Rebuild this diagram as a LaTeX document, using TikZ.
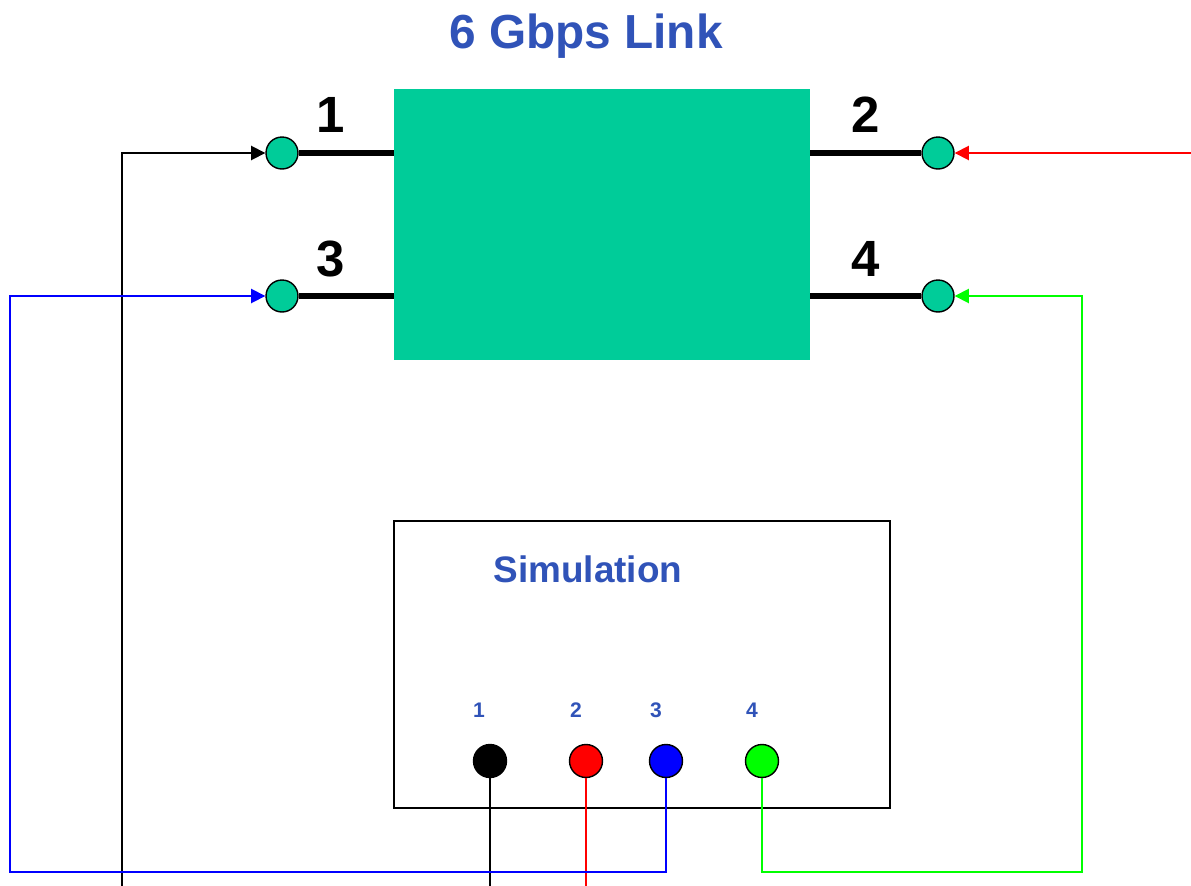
\documentclass[tikz,border=0pt]{standalone}
\usepackage{fontspec}
\setmainfont{Liberation Sans}
\usepackage{xcolor}
\usetikzlibrary{arrows.meta}
\definecolor{linkgreen}{HTML}{00CC99}
\definecolor{titleblue}{HTML}{3053B8}

\begin{document}
\begin{tikzpicture}[
  x=0.02cm,y=-0.02cm,
  font=\bfseries,
  port/.style={circle,draw,line width=0.8pt,fill=linkgreen,minimum size=0.64cm,inner sep=0pt},
  probe/.style={circle,draw,line width=0.8pt,minimum size=0.66cm,inner sep=0pt},
  lead/.style={line width=3pt},
  wire/.style={line width=1pt},
  arr/.style={wire,-{Triangle[length=8pt,width=8pt]}}
]
\useasboundingbox (0,0) rectangle (1191,886);

% title and the link block
\node[anchor=base,text=titleblue,font=\bfseries\fontsize{27.2}{31}\selectfont] (title) at (586,48) {6 Gbps Link};
\node[fill=linkgreen,minimum width=8.32cm,minimum height=5.42cm,inner sep=0pt] (link) at (602,224.5) {};

\node[port] (p1) at (282,153) {};
\node[port] (p3) at (282,296) {};
\node[port] (p2) at (938,153) {};
\node[port] (p4) at (938,296) {};
\draw[lead] (p1) -- (p1 -| link.west);
\draw[lead] (p3) -- (p3 -| link.west);
\draw[lead] (p2) -- (p2 -| link.east);
\draw[lead] (p4) -- (p4 -| link.east);

\node[anchor=base,font=\bfseries\fontsize{29}{32}\selectfont] (l1) at (331,132) {1};
\node[anchor=base,font=\bfseries\fontsize{29}{32}\selectfont] (l3) at (331,276) {3};
\node[anchor=base,font=\bfseries\fontsize{29}{32}\selectfont] (l2) at (866,132) {2};
\node[anchor=base,font=\bfseries\fontsize{29}{32}\selectfont] (l4) at (866,276) {4};

% simulation box
\node[draw,line width=1.1pt,minimum width=9.92cm,minimum height=5.74cm,inner sep=0pt] (sim) at (642,664.5) {};
\node[anchor=base,text=titleblue,font=\bfseries\fontsize{21}{24}\selectfont] (simlabel) at (588,582) {Simulation};

\node[probe,fill=black] (s1) at (490,761) {};
\node[probe,fill=red] (s2) at (586,761) {};
\node[probe,fill=blue] (s3) at (666,761) {};
\node[probe,fill=green] (s4) at (762,761) {};
\foreach \n/\x in {1/479,2/576,3/656,4/752}
  \node[anchor=base,text=titleblue,font=\bfseries\fontsize{12}{14}\selectfont] (t\n) at (\x,717) {\n};

% wiring
\coordinate (b1) at (490,886);
\coordinate (b1in) at (122,886);
\coordinate (b2) at (586,886);
\coordinate (r2) at (1191,153);
\draw[wire] (s1) -- (b1);
\draw[arr] (b1in) |- (p1);
\draw[wire,red] (s2) -- (b2);
\draw[arr,red] (r2) -- (p2);
\draw[arr,blue] (s3) |- (10,872) |- (p3);
\draw[arr,green] (s4) |- (1082,872) |- (p4);
\end{tikzpicture}
\end{document}
